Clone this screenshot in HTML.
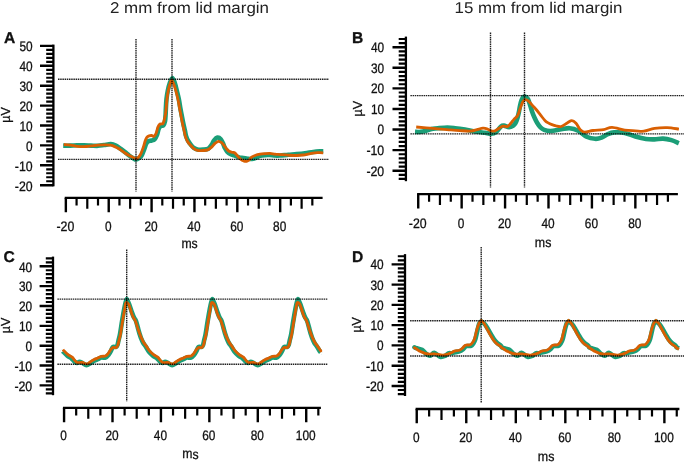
<!DOCTYPE html>
<html lang="en">
<head>
<meta charset="utf-8">
<title>Waveforms at 2 mm and 15 mm from lid margin</title>
<style>
html,body{margin:0;padding:0;background:#fff;}
body{width:685px;height:462px;overflow:hidden;font-family:"Liberation Sans", "DejaVu Sans", sans-serif;}
svg{display:block;font-family:"Liberation Sans", "DejaVu Sans", sans-serif;}
svg text{fill:#111;stroke:#111;stroke-width:0.3px;}
svg .titles text{fill:#222;stroke:none;}
</style>
</head>
<body>
<svg width="685" height="462" viewBox="0 0 685 462">
<rect width="685" height="462" fill="#fff"/>
<g class="titles" stroke="none" fill="#222">
<text x="189.50" y="13.00" font-size="15.60" text-anchor="middle" textLength="159.00" lengthAdjust="spacingAndGlyphs" transform="rotate(0.03 189.50 13.00)">2 mm from lid margin</text>
<text x="538.50" y="13.00" font-size="15.60" text-anchor="middle" textLength="168.00" lengthAdjust="spacingAndGlyphs" transform="rotate(0.03 538.50 13.00)">15 mm from lid margin</text>
</g>
<g class="panel" id="panel-A">
<path class="green" d="M63.20 145.67C64.33 145.67 67.70 145.73 70.00 145.67C72.30 145.61 74.67 145.38 77.00 145.32C79.33 145.26 81.67 145.29 84.00 145.33C86.33 145.38 88.67 145.51 91.00 145.59C93.33 145.67 95.83 145.90 98.00 145.81C100.17 145.72 101.87 145.36 104.00 145.07C106.13 144.78 108.83 143.98 110.80 144.05C112.77 144.12 114.13 144.69 115.80 145.51C117.47 146.33 119.27 147.85 120.80 148.96C122.33 150.07 123.62 151.07 125.00 152.16C126.38 153.25 127.72 154.47 129.10 155.50C130.48 156.53 132.12 157.67 133.30 158.34C134.48 159.01 135.23 159.58 136.20 159.51C137.17 159.44 138.20 158.60 139.10 157.93C140.00 157.26 140.77 156.89 141.60 155.50C142.43 154.11 143.33 151.55 144.10 149.60C144.87 147.65 145.50 145.18 146.20 143.80C146.90 142.42 147.40 141.85 148.30 141.30C149.20 140.75 150.57 140.82 151.60 140.50C152.63 140.18 153.58 140.38 154.50 139.40C155.42 138.42 156.40 136.37 157.10 134.60C157.80 132.83 158.08 130.25 158.70 128.80C159.32 127.35 160.03 126.45 160.80 125.90C161.57 125.35 162.60 126.27 163.30 125.50C164.00 124.73 164.62 123.10 165.00 121.30C165.38 119.50 165.45 116.92 165.60 114.70C165.75 112.48 165.75 110.62 165.90 108.00C166.05 105.38 166.18 101.90 166.50 99.00C166.82 96.10 167.25 93.27 167.80 90.60C168.35 87.93 169.03 85.10 169.80 83.00C170.57 80.90 171.57 78.00 172.40 78.00C173.23 78.00 174.07 80.90 174.80 83.00C175.53 85.10 176.13 87.93 176.80 90.60C177.47 93.27 178.22 96.10 178.80 99.00C179.38 101.90 179.83 105.38 180.30 108.00C180.77 110.62 181.12 112.20 181.60 114.70C182.08 117.20 182.65 120.37 183.20 123.00C183.75 125.63 184.43 128.37 184.90 130.50C185.37 132.63 185.48 134.10 186.00 135.80C186.52 137.50 187.18 139.19 188.00 140.70C188.82 142.21 189.93 143.69 190.90 144.89C191.87 146.09 192.70 147.12 193.80 147.90C194.90 148.68 195.92 149.30 197.50 149.59C199.08 149.88 201.50 149.81 203.30 149.66C205.10 149.51 206.92 149.48 208.30 148.69C209.68 147.90 210.63 146.28 211.60 144.90C212.57 143.52 213.13 141.62 214.10 140.40C215.07 139.18 216.28 137.80 217.40 137.60C218.52 137.40 219.82 138.13 220.80 139.20C221.78 140.27 222.62 142.53 223.30 144.00C223.98 145.47 224.22 146.71 224.90 148.01C225.58 149.31 226.42 150.78 227.40 151.81C228.38 152.84 229.68 153.62 230.80 154.21C231.92 154.80 233.13 154.98 234.10 155.33C235.07 155.68 235.75 155.99 236.60 156.33C237.45 156.68 238.08 157.12 239.20 157.40C240.32 157.68 241.92 157.80 243.30 158.01C244.68 158.22 246.38 158.51 247.50 158.67C248.62 158.83 249.03 158.97 250.00 158.98C250.97 158.98 252.20 158.95 253.30 158.70C254.40 158.45 255.48 157.98 256.60 157.50C257.72 157.02 258.60 156.22 260.00 155.82C261.40 155.42 263.33 155.22 265.00 155.09C266.67 154.96 268.33 154.95 270.00 155.03C271.67 155.11 273.33 155.48 275.00 155.56C276.67 155.64 277.78 155.64 280.00 155.51C282.22 155.38 285.53 154.98 288.30 154.75C291.07 154.52 293.82 154.38 296.60 154.13C299.38 153.88 302.22 153.62 305.00 153.25C307.78 152.88 310.82 152.24 313.30 151.92C315.78 151.60 318.23 151.43 319.90 151.33C321.57 151.23 322.73 151.31 323.30 151.31" fill="none" stroke="#1b9e77" stroke-width="4.60" stroke-linecap="butt" stroke-linejoin="round"/>
<path class="orange" d="M63.80 144.50C64.92 144.60 68.28 144.80 70.50 145.10C72.72 145.40 74.88 146.03 77.10 146.30C79.32 146.57 81.43 146.77 83.80 146.70C86.17 146.63 88.95 146.17 91.30 145.90C93.65 145.63 95.68 145.28 97.90 145.10C100.12 144.92 102.58 144.80 104.60 144.80C106.62 144.80 108.68 144.97 110.00 145.10C111.32 145.23 111.40 145.18 112.50 145.60C113.60 146.02 115.22 146.87 116.60 147.60C117.98 148.33 119.40 149.10 120.80 150.00C122.20 150.90 123.62 152.08 125.00 153.00C126.38 153.92 127.72 154.75 129.10 155.50C130.48 156.25 132.12 156.98 133.30 157.50C134.48 158.02 135.37 158.60 136.20 158.60C137.03 158.60 137.53 158.30 138.30 157.50C139.07 156.70 139.97 155.53 140.80 153.80C141.63 152.07 142.55 149.32 143.30 147.10C144.05 144.88 144.68 142.15 145.30 140.50C145.92 138.85 146.37 137.97 147.00 137.20C147.63 136.43 148.33 136.18 149.10 135.90C149.87 135.62 150.77 135.43 151.60 135.50C152.43 135.57 153.33 136.72 154.10 136.30C154.87 135.88 155.57 134.53 156.20 133.00C156.83 131.47 157.27 128.60 157.90 127.10C158.53 125.60 159.17 124.58 160.00 124.00C160.83 123.42 162.22 124.18 162.90 123.60C163.58 123.02 163.68 121.98 164.10 120.50C164.52 119.02 165.05 116.78 165.40 114.70C165.75 112.62 165.93 110.62 166.20 108.00C166.47 105.38 166.65 101.90 167.00 99.00C167.35 96.10 167.80 93.10 168.30 90.60C168.80 88.10 169.47 85.73 170.00 84.00C170.53 82.27 170.88 80.20 171.50 80.20C172.12 80.20 172.98 82.27 173.70 84.00C174.42 85.73 175.10 88.10 175.80 90.60C176.50 93.10 177.28 96.10 177.90 99.00C178.52 101.90 179.02 105.38 179.50 108.00C179.98 110.62 180.32 112.20 180.80 114.70C181.28 117.20 181.85 120.37 182.40 123.00C182.95 125.63 183.60 128.28 184.10 130.50C184.60 132.72 184.85 134.52 185.40 136.30C185.95 138.08 186.58 139.75 187.40 141.20C188.22 142.65 189.28 143.82 190.30 145.00C191.32 146.18 192.30 147.42 193.50 148.30C194.70 149.18 195.87 149.93 197.50 150.30C199.13 150.67 201.50 150.62 203.30 150.50C205.10 150.38 206.92 150.17 208.30 149.60C209.68 149.03 210.48 148.13 211.60 147.10C212.72 146.07 213.88 144.37 215.00 143.40C216.12 142.43 217.20 141.43 218.30 141.30C219.40 141.17 220.63 141.90 221.60 142.60C222.57 143.30 223.27 144.47 224.10 145.50C224.93 146.53 225.77 147.83 226.60 148.80C227.43 149.77 228.13 150.72 229.10 151.30C230.07 151.88 231.43 152.02 232.40 152.30C233.37 152.58 234.07 152.42 234.90 153.00C235.73 153.58 236.47 154.77 237.40 155.80C238.33 156.83 239.37 158.32 240.50 159.20C241.63 160.08 243.18 160.75 244.20 161.10C245.22 161.45 245.78 161.48 246.60 161.30C247.42 161.12 248.27 160.70 249.10 160.00C249.93 159.30 250.62 157.85 251.60 157.10C252.58 156.35 253.60 155.98 255.00 155.50C256.40 155.02 258.33 154.52 260.00 154.20C261.67 153.88 263.33 153.73 265.00 153.60C266.67 153.47 268.33 153.30 270.00 153.40C271.67 153.50 273.33 154.00 275.00 154.20C276.67 154.40 277.78 154.43 280.00 154.60C282.22 154.77 285.53 155.05 288.30 155.20C291.07 155.35 294.10 155.53 296.60 155.50C299.10 155.47 301.22 155.28 303.30 155.00C305.38 154.72 307.17 154.17 309.10 153.80C311.03 153.43 313.10 152.98 314.90 152.80C316.70 152.62 318.52 152.70 319.90 152.70C321.28 152.70 322.65 152.78 323.20 152.80" fill="none" stroke="#d95f02" stroke-width="2.80" stroke-linecap="butt" stroke-linejoin="round"/>
<g class="guides" stroke="#000" stroke-opacity="0.88" stroke-width="1.40" stroke-dasharray="1.5 0.7" fill="none"><path d="M58.00 79.25H329.00"/><path d="M58.00 159.40H329.00"/><path d="M136.00 39.00V191.50"/><path d="M172.00 39.00V191.50"/></g>
<path class="yaxis" d="M53.40 44.60V186.30" stroke="#000" stroke-width="2.30" fill="none"/>
<path class="ymaj" d="M53.40 185.21H40.00M53.40 165.31H40.00M53.40 145.41H40.00M53.40 125.50H40.00M53.40 105.60H40.00M53.40 85.70H40.00M53.40 65.80H40.00M53.40 45.90H40.00" stroke="#000" stroke-width="2.40" fill="none"/>
<path class="ymin" d="M53.40 181.23H46.20M53.40 177.25H46.20M53.40 173.27H46.20M53.40 169.29H46.20M53.40 161.33H46.20M53.40 157.35H46.20M53.40 153.37H46.20M53.40 149.39H46.20M53.40 141.43H46.20M53.40 137.45H46.20M53.40 133.46H46.20M53.40 129.48H46.20M53.40 121.52H46.20M53.40 117.54H46.20M53.40 113.56H46.20M53.40 109.58H46.20M53.40 101.62H46.20M53.40 97.64H46.20M53.40 93.66H46.20M53.40 89.68H46.20M53.40 81.72H46.20M53.40 77.74H46.20M53.40 73.76H46.20M53.40 69.78H46.20M53.40 61.82H46.20M53.40 57.84H46.20M53.40 53.86H46.20M53.40 49.88H46.20" stroke="#000" stroke-width="2.20" fill="none"/>
<text x="32.60" y="51.40" font-size="13.70" text-anchor="end" textLength="13.20" lengthAdjust="spacingAndGlyphs" transform="rotate(0.03 32.60 51.40)">50</text>
<text x="32.60" y="71.30" font-size="13.70" text-anchor="end" textLength="13.20" lengthAdjust="spacingAndGlyphs" transform="rotate(0.03 32.60 71.30)">40</text>
<text x="32.60" y="91.20" font-size="13.70" text-anchor="end" textLength="13.20" lengthAdjust="spacingAndGlyphs" transform="rotate(0.03 32.60 91.20)">30</text>
<text x="32.60" y="111.10" font-size="13.70" text-anchor="end" textLength="13.20" lengthAdjust="spacingAndGlyphs" transform="rotate(0.03 32.60 111.10)">20</text>
<text x="32.60" y="131.00" font-size="13.70" text-anchor="end" textLength="13.20" lengthAdjust="spacingAndGlyphs" transform="rotate(0.03 32.60 131.00)">10</text>
<text x="32.60" y="150.91" font-size="13.70" text-anchor="end" textLength="6.60" lengthAdjust="spacingAndGlyphs" transform="rotate(0.03 32.60 150.91)">0</text>
<text x="32.60" y="170.81" font-size="13.70" text-anchor="end" textLength="17.80" lengthAdjust="spacingAndGlyphs" transform="rotate(0.03 32.60 170.81)">-10</text>
<text x="32.60" y="190.71" font-size="13.70" text-anchor="end" textLength="17.80" lengthAdjust="spacingAndGlyphs" transform="rotate(0.03 32.60 190.71)">-20</text>
<path class="xaxis" d="M64.70 197.90H322.60" stroke="#000" stroke-width="2.30" fill="none"/>
<path class="xmaj" d="M65.85 197.90V212.20M108.72 197.90V212.20M151.59 197.90V212.20M194.45 197.90V212.20M237.32 197.90V212.20M280.18 197.90V212.20" stroke="#000" stroke-width="2.40" fill="none"/>
<path class="xmin" d="M76.57 197.90V205.50M87.29 197.90V208.80M98.00 197.90V205.50M119.44 197.90V205.50M130.15 197.90V208.80M140.87 197.90V205.50M162.30 197.90V205.50M173.02 197.90V208.80M183.74 197.90V205.50M205.17 197.90V205.50M215.88 197.90V208.80M226.60 197.90V205.50M248.03 197.90V205.50M258.75 197.90V208.80M269.47 197.90V205.50M290.90 197.90V205.50M301.62 197.90V208.80M312.33 197.90V205.50" stroke="#000" stroke-width="2.20" fill="none"/>
<text x="65.35" y="231.00" font-size="13.70" text-anchor="middle" textLength="17.80" lengthAdjust="spacingAndGlyphs" transform="rotate(0.03 65.35 231.00)">-20</text>
<text x="108.22" y="231.00" font-size="13.70" text-anchor="middle" textLength="6.60" lengthAdjust="spacingAndGlyphs" transform="rotate(0.03 108.22 231.00)">0</text>
<text x="151.09" y="231.00" font-size="13.70" text-anchor="middle" textLength="13.20" lengthAdjust="spacingAndGlyphs" transform="rotate(0.03 151.09 231.00)">20</text>
<text x="193.95" y="231.00" font-size="13.70" text-anchor="middle" textLength="13.20" lengthAdjust="spacingAndGlyphs" transform="rotate(0.03 193.95 231.00)">40</text>
<text x="236.82" y="231.00" font-size="13.70" text-anchor="middle" textLength="13.20" lengthAdjust="spacingAndGlyphs" transform="rotate(0.03 236.82 231.00)">60</text>
<text x="279.68" y="231.00" font-size="13.70" text-anchor="middle" textLength="13.20" lengthAdjust="spacingAndGlyphs" transform="rotate(0.03 279.68 231.00)">80</text>
<text x="4.00" y="43.00" font-size="15.60" text-anchor="start" font-weight="bold" transform="rotate(0.03 4.00 43.00)">A</text>
<text x="9.60" y="115.00" font-size="13.70" text-anchor="middle" textLength="15.40" lengthAdjust="spacingAndGlyphs" transform="rotate(-90 9.60 115.00)">µV</text>
<text x="189.60" y="248.40" font-size="13.70" text-anchor="middle" textLength="16.30" lengthAdjust="spacingAndGlyphs" transform="rotate(0.03 189.60 248.40)">ms</text>
</g>
<g class="panel" id="panel-B">
<path class="green" d="M415.00 131.80C415.50 131.83 417.00 132.00 418.00 132.00C419.00 132.00 419.83 131.97 421.00 131.80C422.17 131.63 423.67 131.33 425.00 131.00C426.33 130.67 427.67 130.17 429.00 129.80C430.33 129.43 431.50 129.07 433.00 128.80C434.50 128.53 435.60 128.40 438.00 128.20C440.40 128.00 444.57 127.60 447.40 127.60C450.23 127.60 452.07 127.87 455.00 128.20C457.93 128.53 461.33 129.00 465.00 129.60C468.67 130.20 473.67 131.27 477.00 131.80C480.33 132.33 482.67 132.47 485.00 132.80C487.33 133.13 489.17 133.90 491.00 133.80C492.83 133.70 494.33 133.43 496.00 132.20C497.67 130.97 499.67 127.50 501.00 126.40C502.33 125.30 502.67 125.47 504.00 125.60C505.33 125.73 507.50 127.17 509.00 127.20C510.50 127.23 511.92 126.50 513.00 125.80C514.08 125.10 514.78 124.22 515.50 123.00C516.22 121.78 516.75 120.25 517.30 118.50C517.85 116.75 518.35 114.58 518.80 112.50C519.25 110.42 519.57 108.00 520.00 106.00C520.43 104.00 520.90 101.93 521.40 100.50C521.90 99.07 522.48 98.05 523.00 97.40C523.52 96.75 523.97 96.60 524.50 96.60C525.03 96.60 525.58 96.90 526.20 97.40C526.82 97.90 527.52 98.20 528.20 99.60C528.88 101.00 529.60 103.65 530.30 105.80C531.00 107.95 531.65 110.42 532.40 112.50C533.15 114.58 533.97 116.50 534.80 118.30C535.63 120.10 536.45 121.78 537.40 123.30C538.35 124.82 539.37 126.30 540.50 127.40C541.63 128.50 542.52 129.30 544.20 129.90C545.88 130.50 547.77 131.10 550.60 131.00C553.43 130.90 558.02 129.77 561.20 129.30C564.38 128.83 566.87 127.97 569.70 128.20C572.53 128.43 575.38 129.28 578.20 130.70C581.02 132.12 583.78 135.35 586.60 136.70C589.42 138.05 592.62 138.63 595.10 138.80C597.58 138.97 599.38 138.48 601.50 137.70C603.62 136.92 605.68 134.98 607.80 134.10C609.92 133.22 611.37 132.60 614.20 132.40C617.03 132.20 621.27 132.22 624.80 132.90C628.33 133.58 631.87 135.48 635.40 136.50C638.93 137.52 642.82 138.52 646.00 139.00C649.18 139.48 651.67 139.47 654.50 139.40C657.33 139.33 660.18 138.48 663.00 138.60C665.82 138.72 668.75 139.33 671.40 140.10C674.05 140.87 677.65 142.68 678.90 143.20" fill="none" stroke="#1b9e77" stroke-width="4.60" stroke-linecap="butt" stroke-linejoin="round"/>
<path class="orange" d="M416.20 127.00C418.50 127.20 424.87 127.77 430.00 128.20C435.13 128.63 442.00 129.20 447.00 129.60C452.00 130.00 456.00 130.37 460.00 130.60C464.00 130.83 468.17 131.17 471.00 131.00C473.83 130.83 475.00 130.07 477.00 129.60C479.00 129.13 481.33 128.33 483.00 128.20C484.67 128.07 485.67 128.37 487.00 128.80C488.33 129.23 489.67 130.47 491.00 130.80C492.33 131.13 493.67 131.23 495.00 130.80C496.33 130.37 497.62 128.97 499.00 128.20C500.38 127.43 501.88 126.50 503.30 126.20C504.72 125.90 506.25 126.88 507.50 126.40C508.75 125.92 509.70 124.52 510.80 123.30C511.90 122.08 512.98 120.35 514.10 119.10C515.22 117.85 516.52 117.47 517.50 115.80C518.48 114.13 519.17 111.32 520.00 109.10C520.83 106.88 521.67 104.08 522.50 102.50C523.33 100.92 524.03 99.88 525.00 99.60C525.97 99.32 527.07 99.83 528.30 100.80C529.53 101.77 531.02 103.87 532.40 105.40C533.78 106.93 535.20 108.33 536.60 110.00C538.00 111.67 539.42 113.67 540.80 115.40C542.18 117.13 543.67 119.15 544.90 120.40C546.13 121.65 547.02 122.20 548.20 122.90C549.38 123.60 550.70 124.12 552.00 124.60C553.30 125.08 554.47 125.48 556.00 125.80C557.53 126.12 559.27 127.02 561.20 126.50C563.13 125.98 565.83 123.68 567.60 122.70C569.37 121.72 570.40 120.50 571.80 120.60C573.20 120.70 574.58 121.78 576.00 123.30C577.42 124.82 578.88 128.22 580.30 129.70C581.72 131.18 582.38 132.07 584.50 132.20C586.62 132.33 589.82 130.92 593.00 130.50C596.18 130.08 600.43 130.22 603.60 129.70C606.77 129.18 608.47 127.33 612.00 127.40C615.53 127.47 620.90 129.53 624.80 130.10C628.70 130.67 632.22 130.62 635.40 130.80C638.58 130.98 640.72 131.60 643.90 131.20C647.08 130.80 650.62 129.00 654.50 128.40C658.38 127.80 663.13 127.48 667.20 127.60C671.27 127.72 676.95 128.85 678.90 129.10" fill="none" stroke="#d95f02" stroke-width="2.80" stroke-linecap="butt" stroke-linejoin="round"/>
<g class="guides" stroke="#000" stroke-opacity="0.88" stroke-width="1.40" stroke-dasharray="1.5 0.7" fill="none"><path d="M410.40 95.60H684.00"/><path d="M410.40 133.90H684.00"/><path d="M490.50 32.50V187.50"/><path d="M524.50 32.50V187.50"/></g>
<path class="yaxis" d="M405.90 36.60V181.20" stroke="#000" stroke-width="2.30" fill="none"/>
<path class="ymaj" d="M405.90 170.73H392.50M405.90 150.14H392.50M405.90 129.56H392.50M405.90 108.97H392.50M405.90 88.39H392.50M405.90 67.80H392.50M405.90 47.22H392.50" stroke="#000" stroke-width="2.40" fill="none"/>
<path class="ymin" d="M405.90 178.96H398.70M405.90 174.85H398.70M405.90 166.61H398.70M405.90 162.50H398.70M405.90 158.38H398.70M405.90 154.26H398.70M405.90 146.03H398.70M405.90 141.91H398.70M405.90 137.79H398.70M405.90 133.68H398.70M405.90 125.44H398.70M405.90 121.33H398.70M405.90 117.21H398.70M405.90 113.09H398.70M405.90 104.86H398.70M405.90 100.74H398.70M405.90 96.62H398.70M405.90 92.51H398.70M405.90 84.27H398.70M405.90 80.16H398.70M405.90 76.04H398.70M405.90 71.92H398.70M405.90 63.69H398.70M405.90 59.57H398.70M405.90 55.45H398.70M405.90 51.34H398.70M405.90 43.10H398.70M405.90 38.99H398.70" stroke="#000" stroke-width="2.20" fill="none"/>
<text x="384.20" y="52.12" font-size="13.70" text-anchor="end" textLength="13.20" lengthAdjust="spacingAndGlyphs" transform="rotate(0.03 384.20 52.12)">40</text>
<text x="384.20" y="72.70" font-size="13.70" text-anchor="end" textLength="13.20" lengthAdjust="spacingAndGlyphs" transform="rotate(0.03 384.20 72.70)">30</text>
<text x="384.20" y="93.29" font-size="13.70" text-anchor="end" textLength="13.20" lengthAdjust="spacingAndGlyphs" transform="rotate(0.03 384.20 93.29)">20</text>
<text x="384.20" y="113.88" font-size="13.70" text-anchor="end" textLength="13.20" lengthAdjust="spacingAndGlyphs" transform="rotate(0.03 384.20 113.88)">10</text>
<text x="384.20" y="134.46" font-size="13.70" text-anchor="end" textLength="6.60" lengthAdjust="spacingAndGlyphs" transform="rotate(0.03 384.20 134.46)">0</text>
<text x="384.20" y="155.04" font-size="13.70" text-anchor="end" textLength="17.80" lengthAdjust="spacingAndGlyphs" transform="rotate(0.03 384.20 155.04)">-10</text>
<text x="384.20" y="175.63" font-size="13.70" text-anchor="end" textLength="17.80" lengthAdjust="spacingAndGlyphs" transform="rotate(0.03 384.20 175.63)">-20</text>
<path class="xaxis" d="M417.08 194.10H677.90" stroke="#000" stroke-width="2.30" fill="none"/>
<path class="xmaj" d="M418.23 194.10V208.40M461.65 194.10V208.40M505.07 194.10V208.40M548.50 194.10V208.40M591.92 194.10V208.40M635.35 194.10V208.40" stroke="#000" stroke-width="2.40" fill="none"/>
<path class="xmin" d="M429.08 194.10V201.70M439.94 194.10V205.00M450.79 194.10V201.70M472.51 194.10V201.70M483.36 194.10V205.00M494.22 194.10V201.70M515.93 194.10V201.70M526.79 194.10V205.00M537.64 194.10V201.70M559.35 194.10V201.70M570.21 194.10V205.00M581.07 194.10V201.70M602.78 194.10V201.70M613.63 194.10V205.00M624.49 194.10V201.70M646.20 194.10V201.70M657.06 194.10V205.00M667.91 194.10V201.70" stroke="#000" stroke-width="2.20" fill="none"/>
<text x="417.73" y="228.00" font-size="13.70" text-anchor="middle" textLength="17.80" lengthAdjust="spacingAndGlyphs" transform="rotate(0.03 417.73 228.00)">-20</text>
<text x="461.15" y="228.00" font-size="13.70" text-anchor="middle" textLength="6.60" lengthAdjust="spacingAndGlyphs" transform="rotate(0.03 461.15 228.00)">0</text>
<text x="504.57" y="228.00" font-size="13.70" text-anchor="middle" textLength="13.20" lengthAdjust="spacingAndGlyphs" transform="rotate(0.03 504.57 228.00)">20</text>
<text x="548.00" y="228.00" font-size="13.70" text-anchor="middle" textLength="13.20" lengthAdjust="spacingAndGlyphs" transform="rotate(0.03 548.00 228.00)">40</text>
<text x="591.42" y="228.00" font-size="13.70" text-anchor="middle" textLength="13.20" lengthAdjust="spacingAndGlyphs" transform="rotate(0.03 591.42 228.00)">60</text>
<text x="634.85" y="228.00" font-size="13.70" text-anchor="middle" textLength="13.20" lengthAdjust="spacingAndGlyphs" transform="rotate(0.03 634.85 228.00)">80</text>
<text x="352.00" y="43.00" font-size="15.60" text-anchor="start" font-weight="bold" transform="rotate(0.03 352.00 43.00)">B</text>
<text x="361.60" y="108.70" font-size="13.70" text-anchor="middle" textLength="15.40" lengthAdjust="spacingAndGlyphs" transform="rotate(-90 361.60 108.70)">µV</text>
<text x="543.10" y="247.30" font-size="13.70" text-anchor="middle" textLength="16.50" lengthAdjust="spacingAndGlyphs" transform="rotate(0.03 543.10 247.30)">ms</text>
</g>
<g class="panel" id="panel-C">
<path class="green" d="M63.00 351.15C63.07 351.26 62.63 351.01 63.40 351.80C64.17 352.59 66.22 354.77 67.60 355.90C68.98 357.03 70.58 357.68 71.70 358.60C72.82 359.52 73.42 360.67 74.30 361.40C75.18 362.13 76.12 362.93 77.00 363.00C77.88 363.07 78.68 361.80 79.60 361.80C80.52 361.80 81.35 362.45 82.50 363.00C83.65 363.55 85.18 365.07 86.50 365.10C87.82 365.13 89.18 363.88 90.40 363.20C91.62 362.52 92.55 361.67 93.80 361.00C95.05 360.33 96.65 359.77 97.90 359.20C99.15 358.63 100.05 357.87 101.30 357.60C102.55 357.33 104.22 358.03 105.40 357.60C106.58 357.17 107.50 356.07 108.40 355.00C109.30 353.93 110.05 352.53 110.80 351.20C111.55 349.87 112.03 347.70 112.90 347.00C113.77 346.30 115.23 347.33 116.00 347.00C116.77 346.67 117.07 346.17 117.50 345.00C117.93 343.83 118.18 341.80 118.60 340.00C119.02 338.20 119.42 337.37 120.00 334.20C120.58 331.03 121.38 325.28 122.10 321.00C122.82 316.72 123.70 311.67 124.30 308.50C124.90 305.33 125.28 303.55 125.70 302.00C126.12 300.45 126.62 299.67 126.80 299.20C127.20 300.05 128.33 302.07 129.20 304.30C130.07 306.53 131.20 310.38 132.00 312.60C132.80 314.82 133.33 316.20 134.00 317.60C134.67 319.00 135.28 319.05 136.00 321.00C136.72 322.95 137.68 327.10 138.30 329.30C138.92 331.50 139.23 332.70 139.70 334.20C140.17 335.70 140.55 336.92 141.10 338.30C141.65 339.68 142.20 341.08 143.00 342.50C143.80 343.92 144.90 345.25 145.90 346.80C146.90 348.35 147.78 350.28 149.00 351.80C150.22 353.32 151.82 354.77 153.20 355.90C154.58 357.03 156.18 357.68 157.30 358.60C158.42 359.52 159.02 360.67 159.90 361.40C160.78 362.13 161.72 362.93 162.60 363.00C163.48 363.07 164.28 361.80 165.20 361.80C166.12 361.80 166.95 362.45 168.10 363.00C169.25 363.55 170.78 365.07 172.10 365.10C173.42 365.13 174.78 363.88 176.00 363.20C177.22 362.52 178.15 361.67 179.40 361.00C180.65 360.33 182.25 359.77 183.50 359.20C184.75 358.63 185.65 357.87 186.90 357.60C188.15 357.33 189.82 358.03 191.00 357.60C192.18 357.17 193.10 356.07 194.00 355.00C194.90 353.93 195.65 352.53 196.40 351.20C197.15 349.87 197.63 347.70 198.50 347.00C199.37 346.30 200.83 347.33 201.60 347.00C202.37 346.67 202.67 346.17 203.10 345.00C203.53 343.83 203.78 341.80 204.20 340.00C204.62 338.20 205.02 337.37 205.60 334.20C206.18 331.03 206.98 325.28 207.70 321.00C208.42 316.72 209.30 311.67 209.90 308.50C210.50 305.33 210.88 303.55 211.30 302.00C211.72 300.45 212.22 299.67 212.40 299.20C212.80 300.05 213.93 302.07 214.80 304.30C215.67 306.53 216.80 310.38 217.60 312.60C218.40 314.82 218.93 316.20 219.60 317.60C220.27 319.00 220.88 319.05 221.60 321.00C222.32 322.95 223.28 327.10 223.90 329.30C224.52 331.50 224.83 332.70 225.30 334.20C225.77 335.70 226.15 336.92 226.70 338.30C227.25 339.68 227.80 341.08 228.60 342.50C229.40 343.92 230.50 345.25 231.50 346.80C232.50 348.35 233.38 350.28 234.60 351.80C235.82 353.32 237.42 354.77 238.80 355.90C240.18 357.03 241.78 357.68 242.90 358.60C244.02 359.52 244.62 360.67 245.50 361.40C246.38 362.13 247.32 362.93 248.20 363.00C249.08 363.07 249.88 361.80 250.80 361.80C251.72 361.80 252.55 362.45 253.70 363.00C254.85 363.55 256.38 365.07 257.70 365.10C259.02 365.13 260.38 363.88 261.60 363.20C262.82 362.52 263.75 361.67 265.00 361.00C266.25 360.33 267.85 359.77 269.10 359.20C270.35 358.63 271.25 357.87 272.50 357.60C273.75 357.33 275.42 358.03 276.60 357.60C277.78 357.17 278.70 356.07 279.60 355.00C280.50 353.93 281.25 352.53 282.00 351.20C282.75 349.87 283.23 347.70 284.10 347.00C284.97 346.30 286.43 347.33 287.20 347.00C287.97 346.67 288.27 346.17 288.70 345.00C289.13 343.83 289.38 341.80 289.80 340.00C290.22 338.20 290.62 337.37 291.20 334.20C291.78 331.03 292.58 325.28 293.30 321.00C294.02 316.72 294.90 311.67 295.50 308.50C296.10 305.33 296.48 303.55 296.90 302.00C297.32 300.45 297.82 299.67 298.00 299.20C298.40 300.05 299.53 302.07 300.40 304.30C301.27 306.53 302.40 310.38 303.20 312.60C304.00 314.82 304.53 316.20 305.20 317.60C305.87 319.00 306.48 319.05 307.20 321.00C307.92 322.95 308.88 327.10 309.50 329.30C310.12 331.50 310.43 332.70 310.90 334.20C311.37 335.70 311.75 336.92 312.30 338.30C312.85 339.68 313.40 341.08 314.20 342.50C315.00 343.92 316.10 345.25 317.10 346.80C318.10 348.35 319.62 350.90 320.20 351.80C320.78 352.70 320.53 352.13 320.60 352.19" fill="none" stroke="#1b9e77" stroke-width="4.60" stroke-linecap="butt" stroke-linejoin="round"/>
<path class="orange" d="M63.00 349.46C63.13 349.65 62.97 349.73 63.80 350.60C64.63 351.47 66.62 353.60 68.00 354.70C69.38 355.80 71.00 356.30 72.10 357.20C73.20 358.10 73.77 359.22 74.60 360.10C75.43 360.98 75.85 362.10 77.10 362.50C78.35 362.90 80.43 362.27 82.10 362.50C83.77 362.73 85.72 364.02 87.10 363.90C88.48 363.78 89.28 362.50 90.40 361.80C91.52 361.10 92.55 360.33 93.80 359.70C95.05 359.07 96.65 358.55 97.90 358.00C99.15 357.45 100.05 356.73 101.30 356.40C102.55 356.07 104.30 356.42 105.40 356.00C106.50 355.58 107.07 354.88 107.90 353.90C108.73 352.92 109.57 351.15 110.40 350.10C111.23 349.05 111.93 348.03 112.90 347.60C113.87 347.17 115.37 347.93 116.20 347.50C117.03 347.07 117.42 346.25 117.90 345.00C118.38 343.75 118.67 341.80 119.10 340.00C119.53 338.20 119.92 337.37 120.50 334.20C121.08 331.03 121.88 325.28 122.60 321.00C123.32 316.72 124.23 311.55 124.80 308.50C125.37 305.45 125.35 303.40 126.00 302.70C126.65 302.00 127.80 302.65 128.70 304.30C129.60 305.95 130.62 310.38 131.40 312.60C132.18 314.82 132.73 316.20 133.40 317.60C134.07 319.00 134.62 319.05 135.40 321.00C136.18 322.95 137.35 327.10 138.10 329.30C138.85 331.50 139.32 332.70 139.90 334.20C140.48 335.70 140.97 336.92 141.60 338.30C142.23 339.68 142.87 341.12 143.70 342.50C144.53 343.88 145.65 345.25 146.60 346.60C147.55 347.95 148.23 349.25 149.40 350.60C150.57 351.95 152.22 353.60 153.60 354.70C154.98 355.80 156.60 356.30 157.70 357.20C158.80 358.10 159.37 359.22 160.20 360.10C161.03 360.98 161.45 362.10 162.70 362.50C163.95 362.90 166.03 362.27 167.70 362.50C169.37 362.73 171.32 364.02 172.70 363.90C174.08 363.78 174.88 362.50 176.00 361.80C177.12 361.10 178.15 360.33 179.40 359.70C180.65 359.07 182.25 358.55 183.50 358.00C184.75 357.45 185.65 356.73 186.90 356.40C188.15 356.07 189.90 356.42 191.00 356.00C192.10 355.58 192.67 354.88 193.50 353.90C194.33 352.92 195.17 351.15 196.00 350.10C196.83 349.05 197.53 348.03 198.50 347.60C199.47 347.17 200.97 347.93 201.80 347.50C202.63 347.07 203.02 346.25 203.50 345.00C203.98 343.75 204.27 341.80 204.70 340.00C205.13 338.20 205.52 337.37 206.10 334.20C206.68 331.03 207.48 325.28 208.20 321.00C208.92 316.72 209.83 311.55 210.40 308.50C210.97 305.45 210.95 303.40 211.60 302.70C212.25 302.00 213.40 302.65 214.30 304.30C215.20 305.95 216.22 310.38 217.00 312.60C217.78 314.82 218.33 316.20 219.00 317.60C219.67 319.00 220.22 319.05 221.00 321.00C221.78 322.95 222.95 327.10 223.70 329.30C224.45 331.50 224.92 332.70 225.50 334.20C226.08 335.70 226.57 336.92 227.20 338.30C227.83 339.68 228.47 341.12 229.30 342.50C230.13 343.88 231.25 345.25 232.20 346.60C233.15 347.95 233.83 349.25 235.00 350.60C236.17 351.95 237.82 353.60 239.20 354.70C240.58 355.80 242.20 356.30 243.30 357.20C244.40 358.10 244.97 359.22 245.80 360.10C246.63 360.98 247.05 362.10 248.30 362.50C249.55 362.90 251.63 362.27 253.30 362.50C254.97 362.73 256.92 364.02 258.30 363.90C259.68 363.78 260.48 362.50 261.60 361.80C262.72 361.10 263.75 360.33 265.00 359.70C266.25 359.07 267.85 358.55 269.10 358.00C270.35 357.45 271.25 356.73 272.50 356.40C273.75 356.07 275.50 356.42 276.60 356.00C277.70 355.58 278.27 354.88 279.10 353.90C279.93 352.92 280.77 351.15 281.60 350.10C282.43 349.05 283.13 348.03 284.10 347.60C285.07 347.17 286.57 347.93 287.40 347.50C288.23 347.07 288.62 346.25 289.10 345.00C289.58 343.75 289.87 341.80 290.30 340.00C290.73 338.20 291.12 337.37 291.70 334.20C292.28 331.03 293.08 325.28 293.80 321.00C294.52 316.72 295.43 311.55 296.00 308.50C296.57 305.45 296.55 303.40 297.20 302.70C297.85 302.00 299.00 302.65 299.90 304.30C300.80 305.95 301.82 310.38 302.60 312.60C303.38 314.82 303.93 316.20 304.60 317.60C305.27 319.00 305.82 319.05 306.60 321.00C307.38 322.95 308.55 327.10 309.30 329.30C310.05 331.50 310.52 332.70 311.10 334.20C311.68 335.70 312.17 336.92 312.80 338.30C313.43 339.68 314.07 341.12 314.90 342.50C315.73 343.88 316.85 345.25 317.80 346.60C318.75 347.95 320.13 349.93 320.60 350.60C321.07 351.27 320.60 350.60 320.60 350.60" fill="none" stroke="#d95f02" stroke-width="2.80" stroke-linecap="butt" stroke-linejoin="round"/>
<g class="guides" stroke="#000" stroke-opacity="0.88" stroke-width="1.40" stroke-dasharray="1.5 0.7" fill="none"><path d="M57.40 299.10H328.00"/><path d="M57.40 364.30H328.00"/><path d="M126.70 249.50V401.50"/></g>
<path class="yaxis" d="M53.00 256.60V395.20" stroke="#000" stroke-width="2.30" fill="none"/>
<path class="ymaj" d="M53.00 385.42H39.60M53.00 365.56H39.60M53.00 345.70H39.60M53.00 325.84H39.60M53.00 305.98H39.60M53.00 286.12H39.60M53.00 266.25H39.60" stroke="#000" stroke-width="2.40" fill="none"/>
<path class="ymin" d="M53.00 393.36H45.80M53.00 389.39H45.80M53.00 381.45H45.80M53.00 377.48H45.80M53.00 373.50H45.80M53.00 369.53H45.80M53.00 361.59H45.80M53.00 357.61H45.80M53.00 353.64H45.80M53.00 349.67H45.80M53.00 341.73H45.80M53.00 337.75H45.80M53.00 333.78H45.80M53.00 329.81H45.80M53.00 321.86H45.80M53.00 317.89H45.80M53.00 313.92H45.80M53.00 309.95H45.80M53.00 302.00H45.80M53.00 298.03H45.80M53.00 294.06H45.80M53.00 290.09H45.80M53.00 282.14H45.80M53.00 278.17H45.80M53.00 274.20H45.80M53.00 270.23H45.80M53.00 262.28H45.80M53.00 258.31H45.80" stroke="#000" stroke-width="2.20" fill="none"/>
<text x="32.20" y="271.65" font-size="13.70" text-anchor="end" textLength="13.20" lengthAdjust="spacingAndGlyphs" transform="rotate(0.03 32.20 271.65)">40</text>
<text x="32.20" y="291.51" font-size="13.70" text-anchor="end" textLength="13.20" lengthAdjust="spacingAndGlyphs" transform="rotate(0.03 32.20 291.51)">30</text>
<text x="32.20" y="311.38" font-size="13.70" text-anchor="end" textLength="13.20" lengthAdjust="spacingAndGlyphs" transform="rotate(0.03 32.20 311.38)">20</text>
<text x="32.20" y="331.24" font-size="13.70" text-anchor="end" textLength="13.20" lengthAdjust="spacingAndGlyphs" transform="rotate(0.03 32.20 331.24)">10</text>
<text x="32.20" y="351.10" font-size="13.70" text-anchor="end" textLength="6.60" lengthAdjust="spacingAndGlyphs" transform="rotate(0.03 32.20 351.10)">0</text>
<text x="32.20" y="370.96" font-size="13.70" text-anchor="end" textLength="17.80" lengthAdjust="spacingAndGlyphs" transform="rotate(0.03 32.20 370.96)">-10</text>
<text x="32.20" y="390.82" font-size="13.70" text-anchor="end" textLength="17.80" lengthAdjust="spacingAndGlyphs" transform="rotate(0.03 32.20 390.82)">-20</text>
<path class="xaxis" d="M62.92 407.90H320.90" stroke="#000" stroke-width="2.30" fill="none"/>
<path class="xmaj" d="M64.07 407.90V422.20M112.50 407.90V422.20M160.93 407.90V422.20M209.36 407.90V422.20M257.79 407.90V422.20M306.22 407.90V422.20" stroke="#000" stroke-width="2.40" fill="none"/>
<path class="xmin" d="M76.18 407.90V415.50M88.28 407.90V418.80M100.39 407.90V415.50M124.61 407.90V415.50M136.71 407.90V418.80M148.82 407.90V415.50M173.04 407.90V415.50M185.14 407.90V418.80M197.25 407.90V415.50M221.47 407.90V415.50M233.57 407.90V418.80M245.68 407.90V415.50M269.90 407.90V415.50M282.00 407.90V418.80M294.11 407.90V415.50M318.33 407.90V415.50" stroke="#000" stroke-width="2.20" fill="none"/>
<text x="63.57" y="440.00" font-size="13.70" text-anchor="middle" textLength="6.60" lengthAdjust="spacingAndGlyphs" transform="rotate(0.03 63.57 440.00)">0</text>
<text x="112.00" y="440.00" font-size="13.70" text-anchor="middle" textLength="13.20" lengthAdjust="spacingAndGlyphs" transform="rotate(0.03 112.00 440.00)">20</text>
<text x="160.43" y="440.00" font-size="13.70" text-anchor="middle" textLength="13.20" lengthAdjust="spacingAndGlyphs" transform="rotate(0.03 160.43 440.00)">40</text>
<text x="208.86" y="440.00" font-size="13.70" text-anchor="middle" textLength="13.20" lengthAdjust="spacingAndGlyphs" transform="rotate(0.03 208.86 440.00)">60</text>
<text x="257.29" y="440.00" font-size="13.70" text-anchor="middle" textLength="13.20" lengthAdjust="spacingAndGlyphs" transform="rotate(0.03 257.29 440.00)">80</text>
<text x="305.72" y="440.00" font-size="13.70" text-anchor="middle" textLength="19.80" lengthAdjust="spacingAndGlyphs" transform="rotate(0.03 305.72 440.00)">100</text>
<text x="3.40" y="262.00" font-size="15.60" text-anchor="start" font-weight="bold" transform="rotate(0.03 3.40 262.00)">C</text>
<text x="9.60" y="325.50" font-size="13.70" text-anchor="middle" textLength="15.40" lengthAdjust="spacingAndGlyphs" transform="rotate(-90 9.60 325.50)">µV</text>
<text x="190.50" y="458.50" font-size="13.70" text-anchor="middle" textLength="16.30" lengthAdjust="spacingAndGlyphs" transform="rotate(0.03 190.50 458.50)">ms</text>
</g>
<g class="panel" id="panel-D">
<path class="green" d="M414.60 347.40C414.60 347.40 414.20 347.25 414.60 347.40C415.00 347.55 415.77 347.90 417.00 348.30C418.23 348.70 420.50 348.92 422.00 349.80C423.50 350.68 424.65 352.60 426.00 353.60C427.35 354.60 428.73 355.92 430.10 355.80C431.47 355.68 432.52 352.73 434.20 352.90C435.88 353.07 438.37 356.32 440.20 356.80C442.03 357.28 443.85 356.38 445.20 355.80C446.55 355.22 447.17 353.73 448.30 353.30C449.43 352.87 450.88 353.38 452.00 353.20C453.12 353.02 453.67 352.53 455.00 352.20C456.33 351.87 458.63 351.70 460.00 351.20C461.37 350.70 462.17 350.03 463.20 349.20C464.23 348.37 464.90 346.77 466.20 346.20C467.50 345.63 469.77 346.33 471.00 345.80C472.23 345.27 472.90 344.05 473.60 343.00C474.30 341.95 474.68 341.08 475.20 339.50C475.72 337.92 476.22 335.50 476.70 333.50C477.18 331.50 477.65 329.18 478.10 327.50C478.55 325.82 478.87 324.42 479.40 323.40C479.93 322.38 480.98 321.73 481.30 321.40C481.85 321.83 483.48 322.72 484.60 324.00C485.72 325.28 486.92 327.33 488.00 329.10C489.08 330.87 490.07 332.83 491.10 334.60C492.13 336.37 493.18 338.30 494.20 339.70C495.22 341.10 496.10 342.02 497.20 343.00C498.30 343.98 500.01 344.87 500.80 345.60C501.59 346.33 501.36 346.95 501.95 347.40C502.54 347.85 503.12 347.90 504.35 348.30C505.58 348.70 507.85 348.92 509.35 349.80C510.85 350.68 512.00 352.60 513.35 353.60C514.70 354.60 516.08 355.92 517.45 355.80C518.82 355.68 519.87 352.73 521.55 352.90C523.23 353.07 525.72 356.32 527.55 356.80C529.38 357.28 531.20 356.38 532.55 355.80C533.90 355.22 534.52 353.73 535.65 353.30C536.78 352.87 538.23 353.38 539.35 353.20C540.47 353.02 541.02 352.53 542.35 352.20C543.68 351.87 545.98 351.70 547.35 351.20C548.72 350.70 549.52 350.03 550.55 349.20C551.58 348.37 552.25 346.77 553.55 346.20C554.85 345.63 557.12 346.33 558.35 345.80C559.58 345.27 560.25 344.05 560.95 343.00C561.65 341.95 562.03 341.08 562.55 339.50C563.07 337.92 563.57 335.50 564.05 333.50C564.53 331.50 565.00 329.18 565.45 327.50C565.90 325.82 566.22 324.42 566.75 323.40C567.28 322.38 568.33 321.73 568.65 321.40C569.20 321.83 570.83 322.72 571.95 324.00C573.07 325.28 574.27 327.33 575.35 329.10C576.43 330.87 577.42 332.83 578.45 334.60C579.48 336.37 580.53 338.30 581.55 339.70C582.57 341.10 583.45 342.02 584.55 343.00C585.65 343.98 587.36 344.87 588.15 345.60C588.94 346.33 588.71 346.95 589.30 347.40C589.89 347.85 590.47 347.90 591.70 348.30C592.93 348.70 595.20 348.92 596.70 349.80C598.20 350.68 599.35 352.60 600.70 353.60C602.05 354.60 603.43 355.92 604.80 355.80C606.17 355.68 607.22 352.73 608.90 352.90C610.58 353.07 613.07 356.32 614.90 356.80C616.73 357.28 618.55 356.38 619.90 355.80C621.25 355.22 621.87 353.73 623.00 353.30C624.13 352.87 625.58 353.38 626.70 353.20C627.82 353.02 628.37 352.53 629.70 352.20C631.03 351.87 633.33 351.70 634.70 351.20C636.07 350.70 636.87 350.03 637.90 349.20C638.93 348.37 639.60 346.77 640.90 346.20C642.20 345.63 644.47 346.33 645.70 345.80C646.93 345.27 647.60 344.05 648.30 343.00C649.00 341.95 649.38 341.08 649.90 339.50C650.42 337.92 650.92 335.50 651.40 333.50C651.88 331.50 652.35 329.18 652.80 327.50C653.25 325.82 653.57 324.42 654.10 323.40C654.63 322.38 655.68 321.73 656.00 321.40C656.55 321.83 658.18 322.72 659.30 324.00C660.42 325.28 661.62 327.33 662.70 329.10C663.78 330.87 664.77 332.83 665.80 334.60C666.83 336.37 667.88 338.30 668.90 339.70C669.92 341.10 670.80 342.02 671.90 343.00C673.00 343.98 674.71 344.87 675.50 345.60C676.29 346.33 676.07 346.95 676.65 347.40C677.23 347.85 678.61 348.13 679.00 348.28" fill="none" stroke="#1b9e77" stroke-width="4.60" stroke-linecap="butt" stroke-linejoin="round"/>
<path class="orange" d="M414.60 347.90C414.60 347.90 414.28 347.72 414.60 347.90C414.92 348.08 415.52 348.38 416.50 349.00C417.48 349.62 419.08 350.88 420.50 351.60C421.92 352.32 423.50 352.87 425.00 353.30C426.50 353.73 427.90 354.12 429.50 354.20C431.10 354.28 432.92 353.73 434.60 353.80C436.28 353.87 438.12 354.38 439.60 354.60C441.08 354.82 442.10 355.17 443.50 355.10C444.90 355.03 446.67 354.60 448.00 354.20C449.33 353.80 450.45 353.22 451.50 352.70C452.55 352.18 453.00 351.52 454.30 351.10C455.60 350.68 457.95 350.68 459.30 350.20C460.65 349.72 461.38 349.03 462.40 348.20C463.42 347.37 464.10 345.77 465.40 345.20C466.70 344.63 468.95 345.33 470.20 344.80C471.45 344.27 472.18 342.97 472.90 342.00C473.62 341.03 473.98 340.50 474.50 339.00C475.02 337.50 475.50 334.92 476.00 333.00C476.50 331.08 476.95 329.20 477.50 327.50C478.05 325.80 478.67 324.00 479.30 322.80C479.93 321.60 480.97 320.72 481.30 320.30C481.77 320.85 483.13 322.13 484.10 323.60C485.07 325.07 486.10 327.27 487.10 329.10C488.10 330.93 489.08 332.83 490.10 334.60C491.12 336.37 492.18 338.27 493.20 339.70C494.22 341.13 495.03 342.12 496.20 343.20C497.37 344.28 499.24 345.42 500.20 346.20C501.16 346.98 501.34 347.43 501.95 347.90C502.56 348.37 502.87 348.38 503.85 349.00C504.83 349.62 506.43 350.88 507.85 351.60C509.27 352.32 510.85 352.87 512.35 353.30C513.85 353.73 515.25 354.12 516.85 354.20C518.45 354.28 520.27 353.73 521.95 353.80C523.63 353.87 525.47 354.38 526.95 354.60C528.43 354.82 529.45 355.17 530.85 355.10C532.25 355.03 534.02 354.60 535.35 354.20C536.68 353.80 537.80 353.22 538.85 352.70C539.90 352.18 540.35 351.52 541.65 351.10C542.95 350.68 545.30 350.68 546.65 350.20C548.00 349.72 548.73 349.03 549.75 348.20C550.77 347.37 551.45 345.77 552.75 345.20C554.05 344.63 556.30 345.33 557.55 344.80C558.80 344.27 559.53 342.97 560.25 342.00C560.97 341.03 561.33 340.50 561.85 339.00C562.37 337.50 562.85 334.92 563.35 333.00C563.85 331.08 564.30 329.20 564.85 327.50C565.40 325.80 566.02 324.00 566.65 322.80C567.28 321.60 568.32 320.72 568.65 320.30C569.12 320.85 570.48 322.13 571.45 323.60C572.42 325.07 573.45 327.27 574.45 329.10C575.45 330.93 576.43 332.83 577.45 334.60C578.47 336.37 579.53 338.27 580.55 339.70C581.57 341.13 582.38 342.12 583.55 343.20C584.72 344.28 586.59 345.42 587.55 346.20C588.51 346.98 588.69 347.43 589.30 347.90C589.91 348.37 590.22 348.38 591.20 349.00C592.18 349.62 593.78 350.88 595.20 351.60C596.62 352.32 598.20 352.87 599.70 353.30C601.20 353.73 602.60 354.12 604.20 354.20C605.80 354.28 607.62 353.73 609.30 353.80C610.98 353.87 612.82 354.38 614.30 354.60C615.78 354.82 616.80 355.17 618.20 355.10C619.60 355.03 621.37 354.60 622.70 354.20C624.03 353.80 625.15 353.22 626.20 352.70C627.25 352.18 627.70 351.52 629.00 351.10C630.30 350.68 632.65 350.68 634.00 350.20C635.35 349.72 636.08 349.03 637.10 348.20C638.12 347.37 638.80 345.77 640.10 345.20C641.40 344.63 643.65 345.33 644.90 344.80C646.15 344.27 646.88 342.97 647.60 342.00C648.32 341.03 648.68 340.50 649.20 339.00C649.72 337.50 650.20 334.92 650.70 333.00C651.20 331.08 651.65 329.20 652.20 327.50C652.75 325.80 653.37 324.00 654.00 322.80C654.63 321.60 655.67 320.72 656.00 320.30C656.47 320.85 657.83 322.13 658.80 323.60C659.77 325.07 660.80 327.27 661.80 329.10C662.80 330.93 663.78 332.83 664.80 334.60C665.82 336.37 666.88 338.27 667.90 339.70C668.92 341.13 669.73 342.12 670.90 343.20C672.07 344.28 673.94 345.42 674.90 346.20C675.86 346.98 676.04 347.43 676.65 347.90C677.26 348.37 678.16 348.77 678.55 349.00C678.94 349.23 678.92 349.24 679.00 349.29" fill="none" stroke="#d95f02" stroke-width="2.80" stroke-linecap="butt" stroke-linejoin="round"/>
<g class="guides" stroke="#000" stroke-opacity="0.88" stroke-width="1.40" stroke-dasharray="1.5 0.7" fill="none"><path d="M410.10 320.80H684.00"/><path d="M410.10 356.00H684.00"/><path d="M481.20 247.00V402.50"/></g>
<path class="yaxis" d="M405.00 254.10V396.00" stroke="#000" stroke-width="2.30" fill="none"/>
<path class="ymaj" d="M405.00 385.95H391.60M405.00 365.68H391.60M405.00 345.41H391.60M405.00 325.14H391.60M405.00 304.87H391.60M405.00 284.61H391.60M405.00 264.34H391.60" stroke="#000" stroke-width="2.40" fill="none"/>
<path class="ymin" d="M405.00 394.06H397.80M405.00 390.00H397.80M405.00 381.90H397.80M405.00 377.84H397.80M405.00 373.79H397.80M405.00 369.73H397.80M405.00 361.63H397.80M405.00 357.57H397.80M405.00 353.52H397.80M405.00 349.47H397.80M405.00 341.36H397.80M405.00 337.30H397.80M405.00 333.25H397.80M405.00 329.20H397.80M405.00 321.09H397.80M405.00 317.04H397.80M405.00 312.98H397.80M405.00 308.93H397.80M405.00 300.82H397.80M405.00 296.77H397.80M405.00 292.71H397.80M405.00 288.66H397.80M405.00 280.55H397.80M405.00 276.50H397.80M405.00 272.44H397.80M405.00 268.39H397.80M405.00 260.28H397.80M405.00 256.23H397.80" stroke="#000" stroke-width="2.20" fill="none"/>
<text x="383.70" y="269.44" font-size="13.70" text-anchor="end" textLength="13.20" lengthAdjust="spacingAndGlyphs" transform="rotate(0.03 383.70 269.44)">40</text>
<text x="383.70" y="289.71" font-size="13.70" text-anchor="end" textLength="13.20" lengthAdjust="spacingAndGlyphs" transform="rotate(0.03 383.70 289.71)">30</text>
<text x="383.70" y="309.97" font-size="13.70" text-anchor="end" textLength="13.20" lengthAdjust="spacingAndGlyphs" transform="rotate(0.03 383.70 309.97)">20</text>
<text x="383.70" y="330.24" font-size="13.70" text-anchor="end" textLength="13.20" lengthAdjust="spacingAndGlyphs" transform="rotate(0.03 383.70 330.24)">10</text>
<text x="383.70" y="350.51" font-size="13.70" text-anchor="end" textLength="6.60" lengthAdjust="spacingAndGlyphs" transform="rotate(0.03 383.70 350.51)">0</text>
<text x="383.70" y="370.78" font-size="13.70" text-anchor="end" textLength="17.80" lengthAdjust="spacingAndGlyphs" transform="rotate(0.03 383.70 370.78)">-10</text>
<text x="383.70" y="391.05" font-size="13.70" text-anchor="end" textLength="17.80" lengthAdjust="spacingAndGlyphs" transform="rotate(0.03 383.70 391.05)">-20</text>
<path class="xaxis" d="M415.59 409.00H679.40" stroke="#000" stroke-width="2.30" fill="none"/>
<path class="xmaj" d="M416.74 409.00V423.30M466.27 409.00V423.30M515.80 409.00V423.30M565.32 409.00V423.30M614.85 409.00V423.30M664.38 409.00V423.30" stroke="#000" stroke-width="2.40" fill="none"/>
<path class="xmin" d="M429.12 409.00V416.60M441.50 409.00V419.90M453.89 409.00V416.60M478.65 409.00V416.60M491.03 409.00V419.90M503.41 409.00V416.60M528.18 409.00V416.60M540.56 409.00V419.90M552.94 409.00V416.60M577.71 409.00V416.60M590.09 409.00V419.90M602.47 409.00V416.60M627.23 409.00V416.60M639.62 409.00V419.90M652.00 409.00V416.60M676.76 409.00V416.60" stroke="#000" stroke-width="2.20" fill="none"/>
<text x="416.24" y="442.00" font-size="13.70" text-anchor="middle" textLength="6.60" lengthAdjust="spacingAndGlyphs" transform="rotate(0.03 416.24 442.00)">0</text>
<text x="465.77" y="442.00" font-size="13.70" text-anchor="middle" textLength="13.20" lengthAdjust="spacingAndGlyphs" transform="rotate(0.03 465.77 442.00)">20</text>
<text x="515.30" y="442.00" font-size="13.70" text-anchor="middle" textLength="13.20" lengthAdjust="spacingAndGlyphs" transform="rotate(0.03 515.30 442.00)">40</text>
<text x="564.82" y="442.00" font-size="13.70" text-anchor="middle" textLength="13.20" lengthAdjust="spacingAndGlyphs" transform="rotate(0.03 564.82 442.00)">60</text>
<text x="614.35" y="442.00" font-size="13.70" text-anchor="middle" textLength="13.20" lengthAdjust="spacingAndGlyphs" transform="rotate(0.03 614.35 442.00)">80</text>
<text x="663.88" y="442.00" font-size="13.70" text-anchor="middle" textLength="19.80" lengthAdjust="spacingAndGlyphs" transform="rotate(0.03 663.88 442.00)">100</text>
<text x="352.00" y="262.00" font-size="15.60" text-anchor="start" font-weight="bold" transform="rotate(0.03 352.00 262.00)">D</text>
<text x="360.60" y="324.90" font-size="13.70" text-anchor="middle" textLength="15.40" lengthAdjust="spacingAndGlyphs" transform="rotate(-90 360.60 324.90)">µV</text>
<text x="546.10" y="461.10" font-size="13.70" text-anchor="middle" textLength="16.60" lengthAdjust="spacingAndGlyphs" transform="rotate(0.03 546.10 461.10)">ms</text>
</g>
</svg>
</body>
</html>
